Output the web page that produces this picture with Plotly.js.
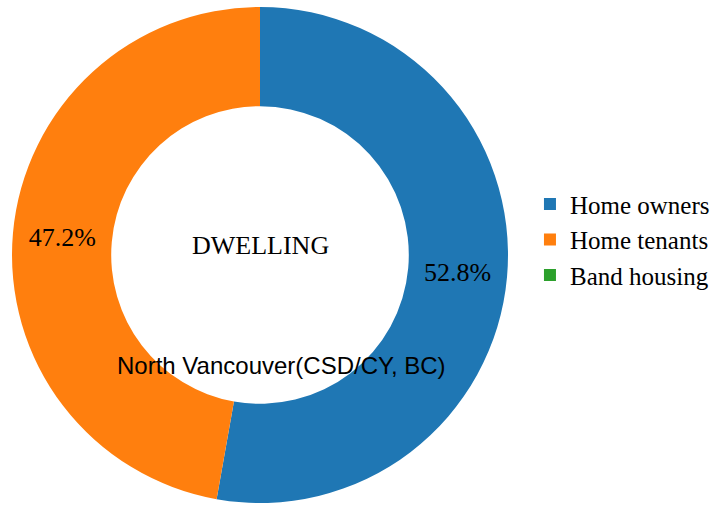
<!DOCTYPE html>
<html>
<head>
<meta charset="utf-8">
<script src="https://cdn.plot.ly/plotly-3.0.1.min.js"></script>
<style>html,body{margin:0;padding:0;background:#fff;}#chart{width:724px;height:506px;}</style>
</head>
<body>
<div id="chart"></div>
<script>
var categories = ["Home owners", "Home tenants", "Band housing"];
var values = [52.8, 47.2, 0];
var colors = ["#1f77b4", "#ff7f0e", "#2ca02c"];
var centerTitle = "DWELLING";
var subTitle = "North Vancouver(CSD/CY, BC)";

var W = 724, H = 506;
var trace = {
  type: "pie",
  labels: categories,
  values: values,
  hole: 0.6,
  sort: false,
  direction: "clockwise",
  rotation: 0,
  marker: {colors: colors, line: {width: 0}},
  textinfo: "percent",
  texttemplate: "%{percent:.1%}",
  textposition: "inside",
  insidetextorientation: "horizontal",
  textfont: {family: "Liberation Serif, Times New Roman, serif", size: 26, color: "#000"},
  domain: {x: [12 / W, 508 / W], y: [3 / H, 499 / H]},
  hoverinfo: "label+percent",
  showlegend: true
};
var layout = {
  width: W, height: H,
  margin: {l: 0, r: 0, t: 0, b: 0},
  paper_bgcolor: "#fff",
  showlegend: true,
  legend: {
    x: 0.732, y: 0.526, xanchor: "left", yanchor: "middle",
    font: {family: "Liberation Serif, Times New Roman, serif", size: 25, color: "#000"},
    tracegroupgap: 0, itemsizing: "constant"
  },
  annotations: [
    {text: centerTitle, x: 260 / W, y: 1 - 245 / H, xref: "paper", yref: "paper", showarrow: false,
     xanchor: "center", yanchor: "middle",
     font: {family: "Liberation Serif, Times New Roman, serif", size: 26, color: "#000"}},
    {text: subTitle, x: 281 / W, y: 1 - 365 / H, xref: "paper", yref: "paper", showarrow: false,
     xanchor: "center", yanchor: "middle",
     font: {family: "Liberation Sans, Arial, sans-serif", size: 24, color: "#000"}}
  ]
};
Plotly.newPlot("chart", [trace], layout, {displayModeBar: false, staticPlot: true});
</script>
</body>
</html>
